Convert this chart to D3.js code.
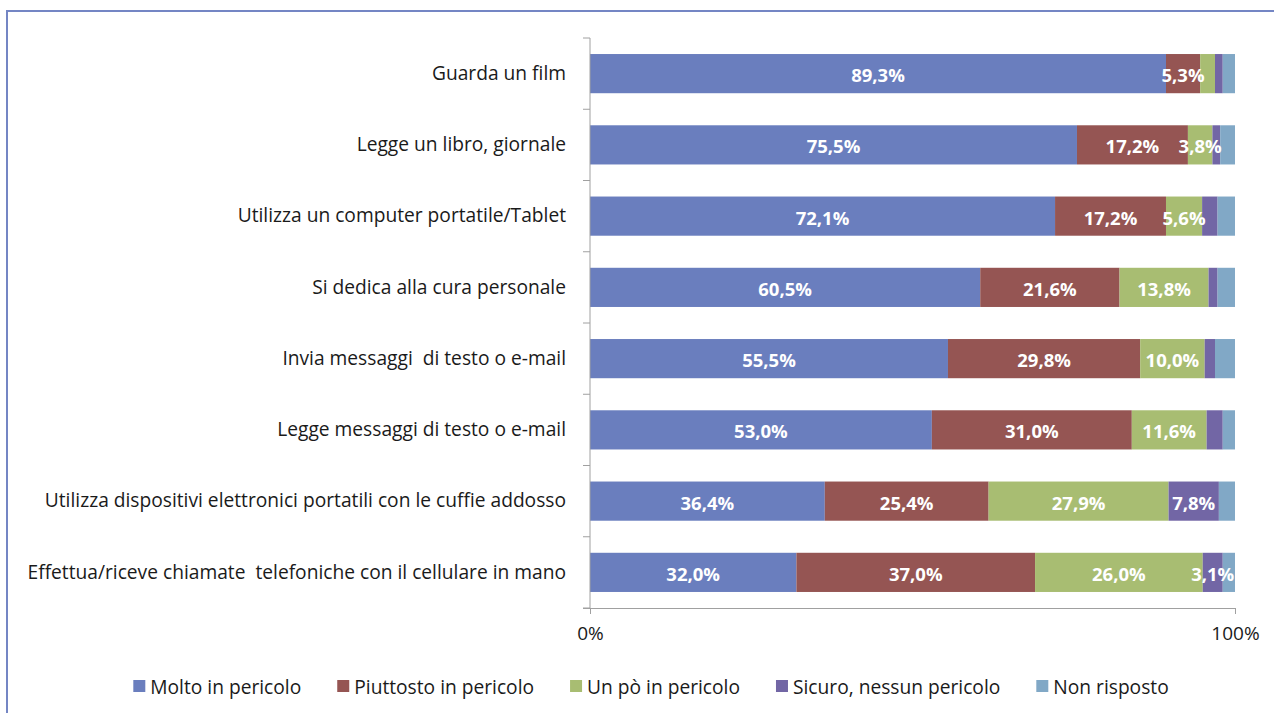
<!DOCTYPE html>
<html>
<head>
<meta charset="utf-8">
<script src="https://cdn.jsdelivr.net/npm/d3@7"></script>
<style>
  body { margin: 0; background: #fff; }
  svg { display: block; }
  text { font-family: "Open Sans", Lato, sans-serif; white-space: pre; }
</style>
</head>
<body>
<div id="chart"></div>
<script>
// categorie (dall'alto verso il basso)
var categories = [
    "Guarda un film",
    "Legge un libro, giornale",
    "Utilizza un computer portatile/Tablet",
    "Si dedica alla cura personale",
    "Invia messaggi  di testo o e-mail",
    "Legge messaggi di testo o e-mail",
    "Utilizza dispositivi elettronici portatili con le cuffie addosso",
    "Effettua/riceve chiamate  telefoniche con il cellulare in mano"
];

var series_names = ["Molto in pericolo", "Piuttosto in pericolo", "Un pò in pericolo", "Sicuro, nessun pericolo", "Non risposto"];

var molto      = [89.3, 75.5, 72.1, 60.5, 55.5, 53.0, 36.4, 32.0];
var piuttosto  = [5.3, 17.2, 17.2, 21.6, 29.8, 31.0, 25.4, 37.0];
var un_po      = [2.3, 3.8, 5.6, 13.8, 10.0, 11.6, 27.9, 26.0];
var sicuro     = [1.2, 1.2, 2.4, 1.4, 1.6, 2.5, 7.8, 3.1];
var non_risp   = [1.9, 2.3, 2.7, 2.7, 3.1, 1.9, 2.5, 1.9];

var x_ticks = [0, 100];

var colors = ["#6a7ebe", "#955553", "#a8bd72", "#7266a5", "#81a8c6"];

var svg_size = { width: 1274, height: 713 };
var plot = { left: 590, right: 1235, top: 38, bottom: 608 };

var svg = d3.select("#chart").append("svg")
    .attr("width", svg_size.width)
    .attr("height", svg_size.height);

// bordo del grafico
svg.append("rect")
    .attr("x", 7).attr("y", 11)
    .attr("width", 1300).attr("height", 800)
    .style("fill", "none")
    .style("stroke", "#7486c4")
    .style("stroke-width", 2);

var table = categories.map(function(c, i){
    return { cat: c, values: [molto[i], piuttosto[i], un_po[i], sicuro[i], non_risp[i]] };
});

var stack_data = table.map(function(row){
    var start = 0;
    return row.values.map(function(v, k){
        var seg = { cat: row.cat, k: k, v: v, x0: start, x1: start + v };
        start += v;
        return seg;
    });
});

var x_scale = d3.scaleLinear().domain([0, 100]).range([plot.left, plot.right]);
var y_scale = d3.scaleBand().domain(categories).range([plot.top, plot.bottom])
    .paddingInner(0.45).paddingOuter(0.225);

// barre
var rows = svg.append("g").selectAll(".row")
    .data(stack_data)
    .enter().append("g")
    .classed("row", true);

rows.selectAll("rect")
    .data(function(d){ return d; })
    .enter().append("rect")
    .attr("x", function(d){ return x_scale(d.x0); })
    .attr("y", function(d){ return y_scale(d.cat); })
    .attr("width", function(d){ return x_scale(d.x1) - x_scale(d.x0); })
    .attr("height", y_scale.bandwidth())
    .style("fill", function(d){ return colors[d.k]; });

// etichette solo per i valori >= 3% (escluso "Non risposto")
rows.selectAll("text")
    .data(function(d){ return d.filter(function(s){ return s.v >= 3 && s.k < 4; }); })
    .enter().append("text")
    .attr("x", function(d){ return (x_scale(d.x0) + x_scale(d.x1)) / 2; })
    .attr("y", function(d){ return y_scale(d.cat) + y_scale.bandwidth() / 2 + 1; })
    .attr("text-anchor", "middle")
    .attr("dominant-baseline", "central")
    .style("fill", "#fff")
    .style("font-weight", "bold")
    .style("font-size", "18.5px")
    .text(function(d){ return d.v.toFixed(1).replace(".", ",") + "%"; });

// asse verticale con tacche tra le categorie
var y_axis = d3.axisLeft(y_scale).tickSize(0).tickPadding(24);
var y_axis_g = svg.append("g")
    .attr("transform", "translate(" + plot.left + ",0)")
    .call(y_axis);
y_axis_g.select(".domain").remove();
y_axis_g.selectAll("text")
    .style("font-size", "19.2px")
    .style("fill", "#1a1a1a")
    .style("font-family", "'Open Sans', sans-serif");

var boundaries = d3.range(categories.length + 1).map(function(i){ return plot.top + i * (plot.bottom - plot.top) / categories.length; });
svg.append("line")
    .attr("x1", plot.left).attr("x2", plot.left)
    .attr("y1", plot.top).attr("y2", plot.bottom)
    .style("stroke", "#a0a0a0");
svg.selectAll(".ytick")
    .data(boundaries)
    .enter().append("line")
    .attr("x1", plot.left - 7).attr("x2", plot.left)
    .attr("y1", function(d){ return d; }).attr("y2", function(d){ return d; })
    .style("stroke", "#a0a0a0");

// asse orizzontale
var x_axis = d3.axisBottom(x_scale)
    .tickValues(x_ticks)
    .tickSize(6)
    .tickPadding(13)
    .tickFormat(function(d){ return d + "%"; });
var x_axis_g = svg.append("g")
    .attr("transform", "translate(0," + plot.bottom + ")")
    .call(x_axis);
x_axis_g.select(".domain").attr("d", "M" + (plot.left - 7) + ",0.5H" + plot.right);
x_axis_g.selectAll("path, line").style("stroke", "#a0a0a0");
x_axis_g.selectAll("text")
    .style("font-size", "19px")
    .style("fill", "#1a1a1a")
    .style("font-family", "'Open Sans', sans-serif");

// legenda
var legend = svg.append("g");
var items = legend.selectAll(".leg")
    .data(series_names)
    .enter().append("g")
    .classed("leg", true);
items.append("rect")
    .attr("width", 12).attr("height", 12)
    .attr("y", -6)
    .style("fill", function(d, i){ return colors[i]; });
items.append("text")
    .attr("x", 17)
    .attr("dominant-baseline", "central")
    .style("font-size", "19.2px")
    .style("fill", "#1a1a1a")
    .text(function(d){ return d; });

var pos = 0;
var gap = 36;
items.each(function(){
    var w = 17 + this.querySelector("text").getComputedTextLength();
    d3.select(this).attr("transform", "translate(" + pos + ",0)");
    pos += w + gap;
});
var total = pos - gap;
legend.attr("transform", "translate(" + (651 - total / 2) + ",686)");
</script>
</body>
</html>
